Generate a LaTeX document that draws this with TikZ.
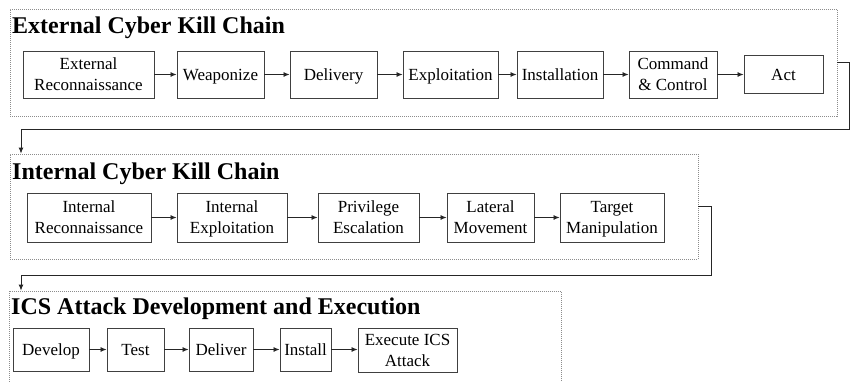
\documentclass[tikz,border=0pt]{standalone}
\usepackage{fontspec}
\setmainfont{Liberation Serif}
\usetikzlibrary{arrows.meta}
\newcommand{\mystr}{\rule[-4.4pt]{0pt}{20pt}}
\newcommand{\onel}[1]{\mystr#1}
\newcommand{\twol}[2]{\mystr#1\\\mystr#2}
\begin{document}
\begin{tikzpicture}[x=1pt,y=-1pt,
  stepbox/.style={draw=black!75,line width=0.9pt,rectangle,inner sep=0pt,align=center,
    font=\fontsize{17}{21}\selectfont},
  grp/.style={draw=black!45,line width=0.7pt,dash pattern=on 1pt off 1pt,rectangle,inner sep=0pt},
  ttl/.style={anchor=base west,inner sep=0pt,font=\fontsize{24}{28}\selectfont\bfseries},
  arr/.style={draw=black!85,line width=0.8pt,-{Latex[length=6pt,width=5pt]}},
  conn/.style={draw=black!85,line width=1pt,-{Latex[length=6pt,width=5pt]}}]
\useasboundingbox (0,0) rectangle (850,381);
\begin{scope}
\clip (0,0) rectangle (850,381);
% groups
\node[grp,minimum width=827,minimum height=107] (g1) at (423.5,62.5) {};
\node[grp,minimum width=688,minimum height=105] (g2) at (354,206.5) {};
\node[grp,minimum width=552,minimum height=110] (g3) at (285,346) {};
\node[ttl] (t1) at (12,33) {External Cyber Kill Chain};
\node[ttl] (t2) at (12,179) {Internal Cyber Kill Chain};
\node[ttl] (t3) at (11,314) {ICS Attack Development and Execution};
% row 1
\node[stepbox,minimum width=131,minimum height=47] (a1) at (88.5,74.5) {\twol{External}{Reconnaissance}};
\node[stepbox,minimum width=87,minimum height=47] (a2) at (220.5,74.5) {\onel{Weaponize}};
\node[stepbox,minimum width=87,minimum height=47] (a3) at (333.5,74.5) {\onel{Delivery}};
\node[stepbox,minimum width=95,minimum height=47] (a4) at (450.5,74.5) {\onel{Exploitation}};
\node[stepbox,minimum width=86,minimum height=47] (a5) at (560,74.5) {\onel{Installation}};
\node[stepbox,minimum width=88,minimum height=47] (a6) at (673,74.5) {\twol{Command}{\& Control}};
\node[stepbox,minimum width=79,minimum height=38] (a7) at (783.5,74.5) {\onel{Act}};
% row 2
\node[stepbox,minimum width=124,minimum height=49] (b1) at (89,217.5) {\twol{Internal}{Reconnaissance}};
\node[stepbox,minimum width=110,minimum height=49] (b2) at (232,217.5) {\twol{Internal}{Exploitation}};
\node[stepbox,minimum width=101,minimum height=49] (b3) at (368.5,217.5) {\twol{Privilege}{Escalation}};
\node[stepbox,minimum width=87,minimum height=49] (b4) at (490.5,217.5) {\twol{Lateral}{Movement}};
\node[stepbox,minimum width=104,minimum height=49] (b5) at (612,217.5) {\twol{Target}{Manipulation}};
% row 3
\node[stepbox,minimum width=76,minimum height=43] (c1) at (51,349.5) {\onel{Develop}};
\node[stepbox,minimum width=57,minimum height=43] (c2) at (135.5,349.5) {\onel{Test}};
\node[stepbox,minimum width=64,minimum height=43] (c3) at (221,349.5) {\onel{Deliver}};
\node[stepbox,minimum width=51,minimum height=43] (c4) at (305.5,349.5) {\onel{Install}};
\node[stepbox,minimum width=99,minimum height=44] (c5) at (407.5,350) {\twol{Execute ICS}{Attack}};
% arrows
\foreach \p/\q in {a1/a2,a2/a3,a3/a4,a4/a5,a5/a6,a6/a7,b1/b2,b2/b3,b3/b4,b4/b5,c1/c2,c2/c3,c3/c4,c4/c5}
  \draw[arr] (\p.east) -- (\p.east -| \q.west);
% connectors between groups
\coordinate (k1) at (849,129);
\coordinate (k2) at (21,129);
\draw[conn] (g1.east) -| (k1) -- (k2) -- (k2 |- g2.north);
\coordinate (k3) at (711,275);
\coordinate (k4) at (21,275);
\draw[conn] (g2.east) -| (k3) -- (k4) -- (k4 |- g3.north);
\end{scope}
\end{tikzpicture}
\end{document}
